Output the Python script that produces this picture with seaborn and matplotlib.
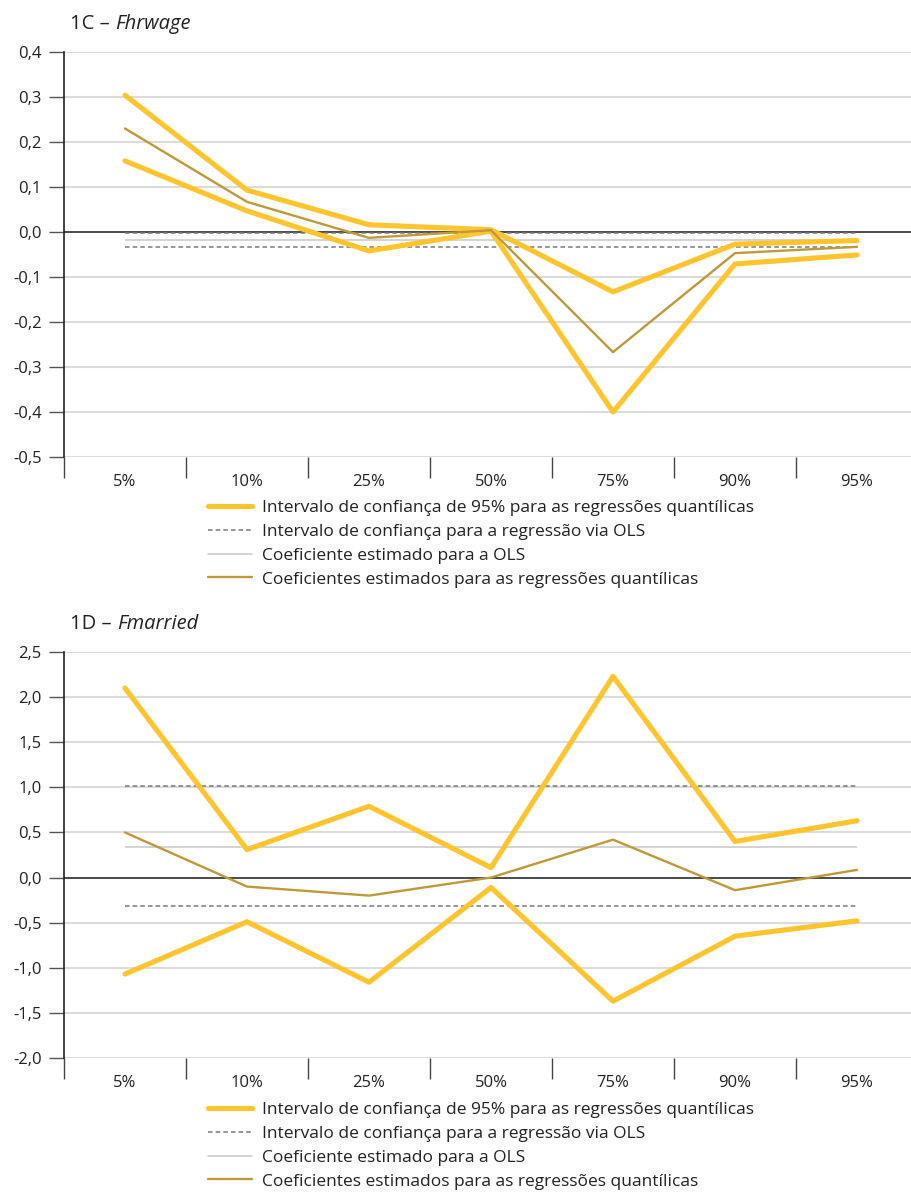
import numpy as np
import pandas as pd
import matplotlib
matplotlib.use("Agg")
import matplotlib.pyplot as plt
import seaborn as sns
from matplotlib.ticker import FixedLocator, FuncFormatter

# ============================================
# DATA
# ============================================

quantis = ["5%", "10%", "25%", "50%", "75%", "90%", "95%"]

# 1C - Fhrwage
fhr_ic_sup = [0.304, 0.093, 0.016, 0.005, -0.133, -0.027, -0.019]
fhr_ic_inf = [0.158, 0.047, -0.042, 0.002, -0.400, -0.071, -0.051]
fhr_coef = [0.230, 0.067, -0.013, 0.004, -0.267, -0.047, -0.033]
fhr_ols = -0.018
fhr_ols_sup = -0.002
fhr_ols_inf = -0.033
fhr_yticks = [-0.5, -0.4, -0.3, -0.2, -0.1, 0.0, 0.1, 0.2, 0.3, 0.4]

# 1D - Fmarried
fmar_ic_sup = [2.10, 0.31, 0.79, 0.11, 2.23, 0.40, 0.63]
fmar_ic_inf = [-1.07, -0.49, -1.16, -0.11, -1.37, -0.65, -0.48]
fmar_coef = [0.50, -0.10, -0.20, 0.00, 0.42, -0.14, 0.085]
fmar_ols = 0.34
fmar_ols_sup = 1.02
fmar_ols_inf = -0.31
fmar_yticks = [-2.0, -1.5, -1.0, -0.5, 0.0, 0.5, 1.0, 1.5, 2.0, 2.5]

legend_labels = [
    "Intervalo de confiança de 95% para as regressões quantílicas",
    "Intervalo de confiança para a regressão via OLS",
    "Coeficiente estimado para a OLS",
    "Coeficientes estimados para as regressões quantílicas",
]

# ============================================
# STYLE
# ============================================

sns.set_style("white")
plt.rcParams["font.family"] = ["Open Sans", "DejaVu Sans"]

YELLOW = "#FFC42E"
GOLD = "#C09A3A"
DASH = "#7A7A7A"
OLS_GRAY = "#C8C8C8"
GRID = "#DCDCDC"
TXT = "#222222"

W, H = 911, 1204


def painel(fig, ax, sup, inf, coef, ols, ols_sup, ols_inf, yticks,
           titulo, serie, legend_top):

    df = pd.DataFrame({"quantil": quantis, "sup": sup, "inf": inf, "coef": coef})

    # grid + zero line
    for v in yticks:
        ax.axhline(v, color=GRID, lw=1.5, zorder=0)
    ax.axhline(0, color="#333333", lw=1.2, zorder=1)

    # OLS reference lines
    ax.hlines([ols_sup, ols_inf], 0, len(quantis) - 1, colors=DASH,
              linestyles=(0, (3, 2)), lw=1.1, zorder=2)
    ax.hlines(ols, 0, len(quantis) - 1, colors=OLS_GRAY, lw=1.1, zorder=2)

    # quantile regressions
    sns.lineplot(data=df, x="quantil", y="sup", ax=ax, color=YELLOW, lw=3.7,
                 zorder=3, sort=False)
    sns.lineplot(data=df, x="quantil", y="inf", ax=ax, color=YELLOW, lw=3.7,
                 zorder=3, sort=False)
    sns.lineplot(data=df, x="quantil", y="coef", ax=ax, color=GOLD, lw=1.7,
                 zorder=4, sort=False)

    ax.set_xlim(-0.5, -0.5 + (W - 64) / 122)
    ax.set_ylim(yticks[0], yticks[-1])
    ax.set_xlabel("")
    ax.set_ylabel("")

    for s in ["top", "right", "bottom"]:
        ax.spines[s].set_visible(False)
    ax.spines["left"].set_color(TXT)
    ax.spines["left"].set_linewidth(1.2)

    ax.yaxis.set_major_locator(FixedLocator(yticks))
    ax.yaxis.set_major_formatter(FuncFormatter(lambda v, p: f"{v:.1f}".replace(".", ",")))
    ax.tick_params(axis="y", length=11, width=1.0, color="#555555", pad=5,
                   labelsize=12, labelcolor=TXT, left=True)

    ax.set_xticks(range(len(quantis)))
    ax.set_xticklabels(quantis)
    ax.set_xticks(np.arange(len(quantis)) - 0.5, minor=True)
    ax.tick_params(axis="x", which="major", length=0, pad=12, labelsize=12,
                   labelcolor=TXT)
    ax.tick_params(axis="x", which="minor", length=15, width=1.0,
                   color="#444444", bottom=True)

    # title: plain code + italic variable name
    t = ax.text(0.007, 1.045, titulo + " \u2013 ", transform=ax.transAxes,
                fontsize=14.5, ha="left", va="bottom", color=TXT)
    fig.canvas.draw()
    bb = t.get_window_extent().transformed(ax.transAxes.inverted())
    ax.text(bb.x1, 1.045, serie, transform=ax.transAxes, fontsize=14.5,
            style="italic", ha="left", va="bottom", color=TXT)

    handles = [
        plt.Line2D([], [], color=YELLOW, lw=3.7),
        plt.Line2D([], [], color=DASH, lw=1.1, linestyle=(0, (3, 2))),
        plt.Line2D([], [], color=OLS_GRAY, lw=1.1),
        plt.Line2D([], [], color=GOLD, lw=1.7),
    ]
    fig.legend(handles, legend_labels, loc="upper left",
               bbox_to_anchor=(208 / W, 1 - legend_top / H),
               bbox_transform=fig.transFigure, frameon=False, fontsize=12.5,
               handlelength=2.53, handletextpad=0.58, labelspacing=0.44,
               borderpad=0.0, borderaxespad=0.0, labelcolor=TXT)


fig = plt.figure(figsize=(W / 100, H / 100), dpi=100)

ax1 = fig.add_axes([64 / W, 1 - 457 / H, (W - 64) / W, 405 / H])
ax2 = fig.add_axes([64 / W, 1 - 1058 / H, (W - 64) / W, 406 / H])

painel(fig, ax1, fhr_ic_sup, fhr_ic_inf, fhr_coef, fhr_ols, fhr_ols_sup,
       fhr_ols_inf, fhr_yticks, "1C", "Fhrwage", 500)
painel(fig, ax2, fmar_ic_sup, fmar_ic_inf, fmar_coef, fmar_ols, fmar_ols_sup,
       fmar_ols_inf, fmar_yticks, "1D", "Fmarried", 1102)

fig.savefig("out.png", dpi=100)
